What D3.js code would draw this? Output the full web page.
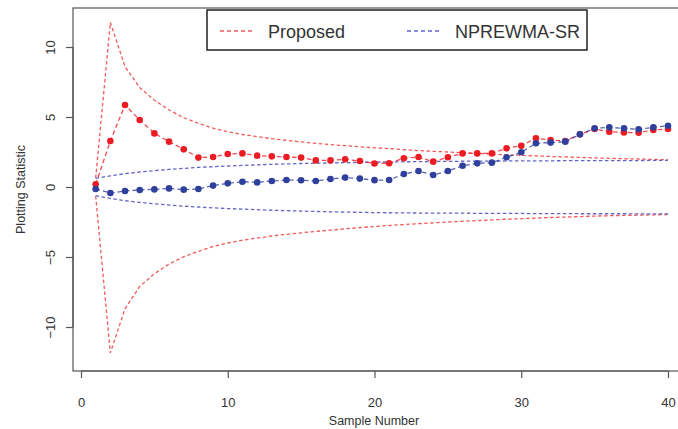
<!DOCTYPE html>
<html>
<head>
<meta charset="utf-8">
<script src="https://cdn.jsdelivr.net/npm/d3@7"></script>
<style>
  body { margin: 0; background: #fff; }
  svg { display: block; font-family: "Liberation Sans", Arial, sans-serif; }
</style>
</head>
<body>
<svg id="chart" width="678" height="429"></svg>
<script>
// sample numbers 1..40
const samples = [1,2,3,4,5,6,7,8,9,10,11,12,13,14,15,16,17,18,19,20,
  21,22,23,24,25,26,27,28,29,30,31,32,33,34,35,36,37,38,39,40];

// Proposed chart statistic (red points)
const proposed = [0.19,3.29,5.86,4.79,3.83,3.24,2.69,2.1,2.14,2.36,
  2.4,2.24,2.19,2.14,2.1,1.9,1.9,1.98,1.86,1.68,
  1.7,2.05,2.14,1.81,2.12,2.4,2.4,2.4,2.76,2.95,
  3.48,3.36,3.29,3.76,4.14,3.95,3.9,3.88,4.07,4.14];

// NPREWMA-SR statistic (blue points)
const nprewma = [-0.14,-0.43,-0.29,-0.21,-0.17,-0.1,-0.19,-0.14,0.1,0.26,
  0.38,0.33,0.43,0.5,0.48,0.43,0.57,0.67,0.6,0.49,
  0.5,0.93,1.14,0.86,1.14,1.52,1.69,1.74,2.12,2.48,
  3.12,3.17,3.24,3.76,4.19,4.26,4.19,4.12,4.26,4.38];

// control limits
const proposedUCL = [0.64,11.75,8.6,7.1,6.2,5.5,4.95,4.55,4.2,3.95,
  3.75,3.6,3.45,3.33,3.22,3.12,3.03,2.95,2.87,2.8,
  2.74,2.67,2.6,2.55,2.5,2.45,2.4,2.35,2.3,2.26,
  2.22,2.18,2.15,2.11,2.08,2.05,2.02,2.0,1.97,1.95];
const proposedLCL = [-0.64,-11.85,-8.7,-7.1,-6.2,-5.5,-4.98,-4.6,-4.25,-4.0,
  -3.8,-3.65,-3.5,-3.38,-3.27,-3.17,-3.08,-2.99,-2.9,-2.82,
  -2.75,-2.68,-2.62,-2.56,-2.5,-2.45,-2.4,-2.35,-2.3,-2.26,
  -2.22,-2.18,-2.15,-2.11,-2.08,-2.05,-2.03,-2.01,-1.99,-1.97];
const nprewmaUCL = [0.62,0.8,0.95,1.07,1.17,1.26,1.33,1.4,1.45,1.5,
  1.54,1.58,1.62,1.65,1.68,1.7,1.72,1.74,1.76,1.78,
  1.79,1.8,1.81,1.82,1.83,1.84,1.85,1.85,1.86,1.86,
  1.87,1.87,1.88,1.88,1.88,1.89,1.89,1.89,1.9,1.9];
const nprewmaLCL = [-0.62,-0.82,-0.98,-1.1,-1.2,-1.29,-1.37,-1.43,-1.49,-1.54,
  -1.58,-1.62,-1.66,-1.69,-1.72,-1.75,-1.77,-1.79,-1.81,-1.83,
  -1.84,-1.85,-1.86,-1.86,-1.87,-1.87,-1.88,-1.88,-1.89,-1.89,
  -1.9,-1.9,-1.9,-1.91,-1.91,-1.91,-1.91,-1.92,-1.92,-1.92];

const xTicks = [0, 10, 20, 30, 40];
const yTicks = [-10, -5, 0, 5, 10];
const legendLabels = ["Proposed", "NPREWMA-SR"];

const box = { left: 73, top: 8, right: 690, bottom: 371 };
const redPt = "#ec1c24", bluePt = "#2e3f9c";
const redLim = "#f25b5b", blueLim = "#6565c8";

const svg = d3.select("#chart");

const x = d3.scaleLinear().domain([0, 40]).range([81, 668]);
const y = d3.scaleLinear().domain([-10, 10]).range([327, 47]);

// plot box
svg.append("rect")
  .attr("x", box.left).attr("y", box.top)
  .attr("width", box.right - box.left).attr("height", box.bottom - box.top)
  .attr("fill", "none").attr("stroke", "#555").attr("stroke-width", 1.2);

// axes
const xAxis = svg.append("g")
  .attr("transform", `translate(0, ${box.bottom})`)
  .call(d3.axisBottom(x).tickValues(xTicks).tickSize(7).tickPadding(20).tickSizeOuter(0));
const yAxis = svg.append("g")
  .attr("transform", `translate(${box.left}, 0)`)
  .call(d3.axisLeft(y).tickValues(yTicks).tickSize(7).tickPadding(14).tickSizeOuter(0));

[xAxis, yAxis].forEach(g => {
  g.select(".domain").attr("stroke", "#555").attr("stroke-width", 1.2);
  g.selectAll(".tick line").attr("stroke", "#555").attr("stroke-width", 1.2);
  g.selectAll(".tick text").attr("fill", "#333").style("font-size", "13px")
    .style("font-family", "Liberation Sans, Arial, sans-serif");
});
xAxis.select(".domain").attr("d", `M${x(0)},0H${x(40)}`);
yAxis.selectAll(".tick text")
  .attr("text-anchor", "middle")
  .attr("dy", null)
  .attr("transform", "rotate(-90)")
  .attr("x", 0)
  .attr("y", -18);
yAxis.select(".domain").attr("d", `M0,${y(-10)}V${y(10)}`);

// axis titles
svg.append("text")
  .attr("x", 374).attr("y", 425)
  .attr("text-anchor", "middle")
  .attr("fill", "#333").style("font-size", "12.5px")
  .text("Sample Number");
svg.append("text")
  .attr("transform", `translate(25, ${(box.top + box.bottom) / 2}) rotate(-90)`)
  .attr("text-anchor", "middle")
  .attr("fill", "#333").style("font-size", "12.5px")
  .text("Plotting Statistic");

// clip to plot box
svg.append("clipPath").attr("id", "clip")
  .append("rect").attr("x", box.left).attr("y", box.top)
  .attr("width", box.right - box.left).attr("height", box.bottom - box.top);
const plot = svg.append("g").attr("clip-path", "url(#clip)");

const line = d3.line().x((d, i) => x(samples[i])).y(d => y(d));

// control limits
[[proposedUCL, redLim], [proposedLCL, redLim], [nprewmaUCL, blueLim], [nprewmaLCL, blueLim]]
  .forEach(([vals, col]) => {
    plot.append("path")
      .datum(vals)
      .attr("d", line)
      .attr("fill", "none")
      .attr("stroke", col)
      .attr("stroke-width", 1.3)
      .attr("stroke-dasharray", "3.5,2.5");
  });

// statistics
[[proposed, redPt], [nprewma, bluePt]].forEach(([vals, col]) => {
  plot.append("path")
    .datum(vals)
    .attr("d", line)
    .attr("fill", "none")
    .attr("stroke", col)
    .attr("stroke-opacity", 0.8)
    .attr("stroke-width", 1.3)
    .attr("stroke-dasharray", "4.5,3");
  plot.selectAll(null)
    .data(vals)
    .enter().append("circle")
    .attr("cx", (d, i) => x(samples[i]))
    .attr("cy", d => y(d))
    .attr("r", 3.3)
    .attr("fill", col);
});

// legend
const lg = svg.append("g");
lg.append("rect")
  .attr("x", 207).attr("y", 10).attr("width", 380).attr("height", 40)
  .attr("fill", "#fff").attr("stroke", "#222").attr("stroke-width", 1.5);
[[220, 268, redLim], [407, 455, blueLim]].forEach(([lx, tx, col], i) => {
  lg.append("line")
    .attr("x1", lx).attr("x2", lx + 33).attr("y1", 31).attr("y2", 31)
    .attr("stroke", col).attr("stroke-width", 1.5)
    .attr("stroke-dasharray", "4,3");
  lg.append("text")
    .attr("x", tx).attr("y", 37.5)
    .attr("fill", "#333").style("font-size", "18px")
    .text(legendLabels[i]);
});
</script>
</body>
</html>
